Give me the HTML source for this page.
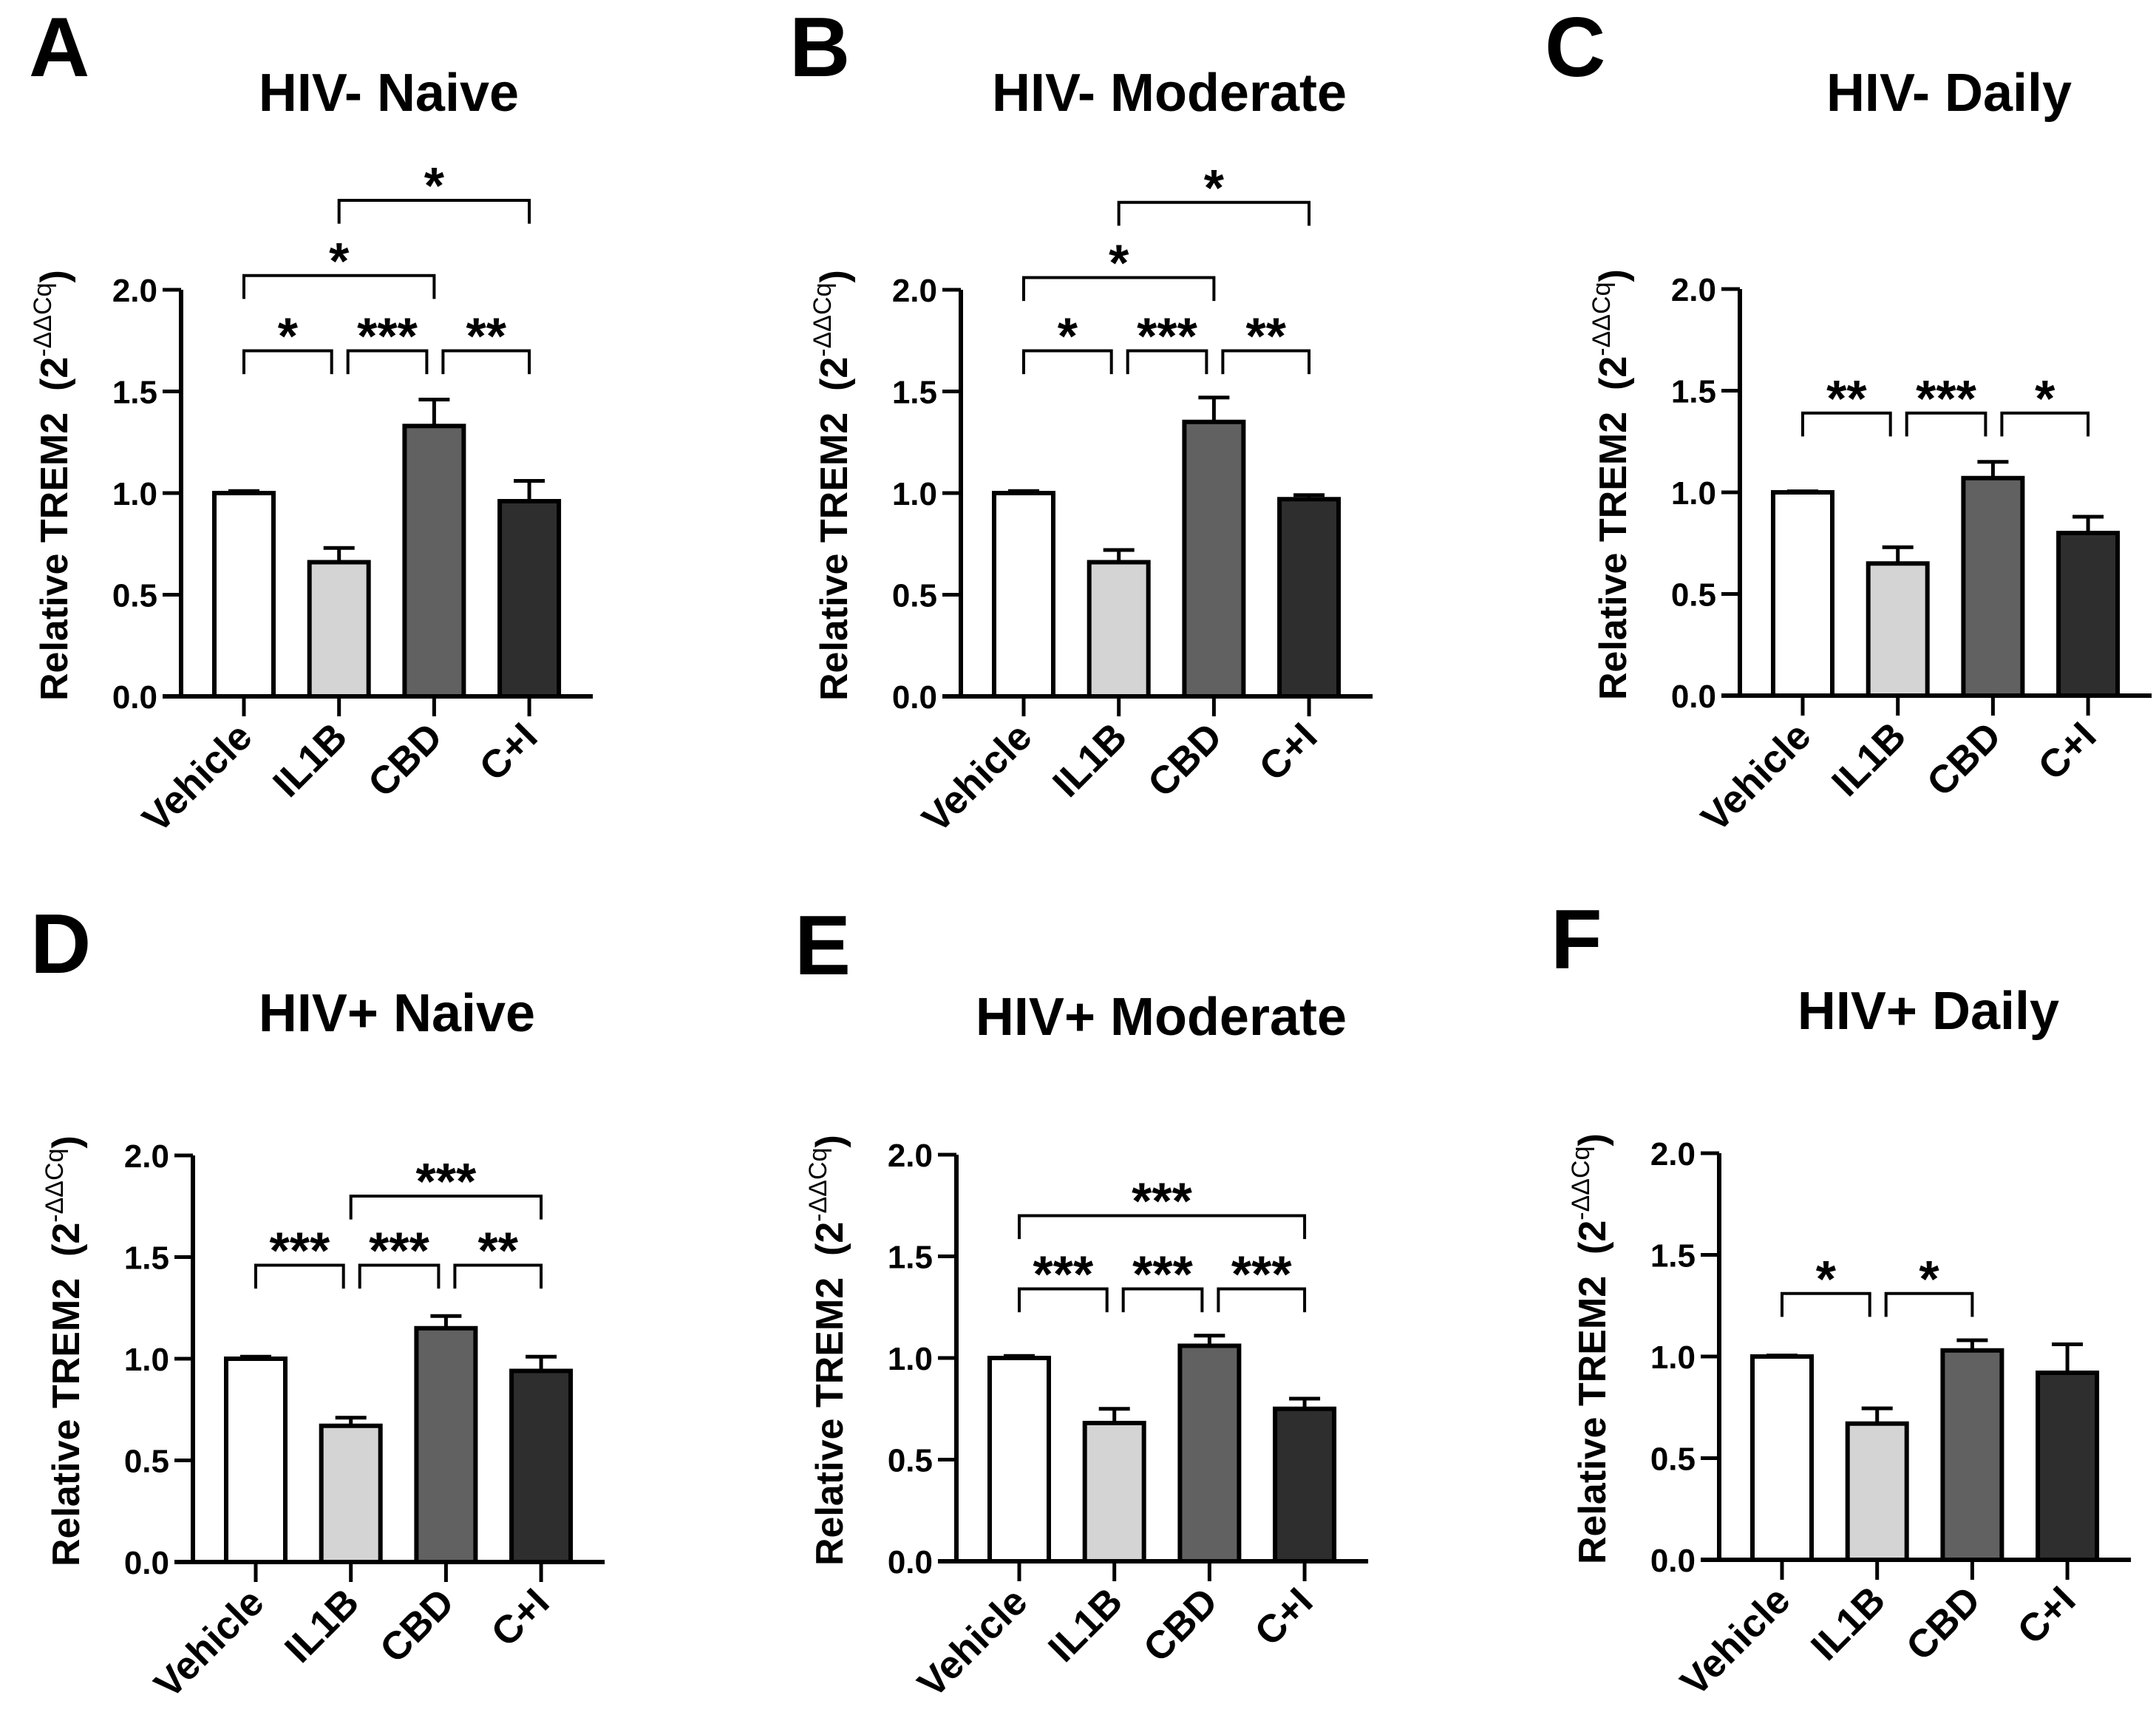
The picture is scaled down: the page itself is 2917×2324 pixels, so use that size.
<!DOCTYPE html>
<html><head><meta charset="utf-8"><style>
html,body{margin:0;padding:0;background:#fff}
svg{display:block}
text{font-family:"Liberation Sans",Arial,sans-serif;font-weight:bold;fill:#000}
</style></head>
<body>
<svg id="fig" width="2917" height="2324" viewBox="0 0 2917 2324" xmlns="http://www.w3.org/2000/svg"></svg>
<script>
const categories = ["Vehicle","IL1B","CBD","C+I"];
const yTicks = [0.0,0.5,1.0,1.5,2.0];
const yTickLabels = ["0.0","0.5","1.0","1.5","2.0"];
const valuesA = [1.00,0.66,1.33,0.96];
const errA    = [1.01,0.73,1.46,1.06];
const valuesB = [1.00,0.66,1.35,0.97];
const errB    = [1.01,0.72,1.47,0.99];
const valuesC = [1.00,0.65,1.07,0.80];
const errC    = [1.005,0.73,1.15,0.88];
const valuesD = [1.00,0.67,1.15,0.94];
const errD    = [1.01,0.71,1.21,1.01];
const valuesE = [1.00,0.68,1.06,0.75];
const errE    = [1.01,0.75,1.11,0.80];
const valuesF = [1.00,0.67,1.03,0.92];
const errF    = [1.005,0.745,1.08,1.06];
// brackets: [from, to, level, label]
const bracketsA = [[0,1,1.70,"*"],[1,2,1.70,"***"],[2,3,1.70,"**"],[0,2,2.07,"*"],[1,3,2.44,"*"]];
const bracketsB = [[0,1,1.70,"*"],[1,2,1.70,"***"],[2,3,1.70,"**"],[0,2,2.06,"*"],[1,3,2.43,"*"]];
const bracketsC = [[0,1,1.39,"**"],[1,2,1.39,"***"],[2,3,1.39,"*"]];
const bracketsD = [[0,1,1.46,"***"],[1,2,1.46,"***"],[2,3,1.46,"**"],[1,3,1.80,"***"]];
const bracketsE = [[0,1,1.34,"***"],[1,2,1.34,"***"],[2,3,1.34,"***"],[0,3,1.70,"***"]];
const bracketsF = [[0,1,1.31,"*"],[1,2,1.31,"*"]];

const fills = ["#ffffff","#d4d4d4","#616161","#2e2e2e"];
const NS = "http://www.w3.org/2000/svg";
const svg = document.getElementById("fig");
function mk(tag, attrs, parent){
  const e = document.createElementNS(NS, tag);
  for (const k in attrs) e.setAttribute(k, attrs[k]);
  (parent||svg).appendChild(e);
  return e;
}
const panels = [
  {id:"a",letter:"A",title:"HIV- Naive",ax:245,y0:942,lx:39,ly:103,tx:526,ty:150,v:valuesA,e:errA,b:bracketsA},
  {id:"b",letter:"B",title:"HIV- Moderate",ax:1300,y0:942,lx:1068,ly:103,tx:1582,ty:150,v:valuesB,e:errB,b:bracketsB},
  {id:"c",letter:"C",title:"HIV- Daily",ax:2354,y0:941,lx:2090,ly:103,tx:2637,ty:150,v:valuesC,e:errC,b:bracketsC},
  {id:"d",letter:"D",title:"HIV+ Naive",ax:261,y0:2113,lx:41,ly:1316,tx:537,ty:1395,v:valuesD,e:errD,b:bracketsD},
  {id:"e",letter:"E",title:"HIV+ Moderate",ax:1294,y0:2112,lx:1075,ly:1318,tx:1571,ty:1400,v:valuesE,e:errE,b:bracketsE},
  {id:"f",letter:"F",title:"HIV+ Daily",ax:2326,y0:2110,lx:2098,ly:1310,tx:2609,ty:1392,v:valuesF,e:errF,b:bracketsF}
];
const UNIT = 275, SPACING = 128.7, FIRST = 85, BW = 80;

panels.forEach(p => {
  const g = mk("g", {});
  
  
  const yS = v => p.y0 - v*UNIT;
  const xS = i => p.ax + FIRST + i*SPACING;
  const xEnd = xS(3) + 86;

  const L = mk("text", {x:p.lx, y:p.ly, "font-size":114}, g);
  L.textContent = p.letter;
  
  

  const T = mk("text", {x:p.tx, y:p.ty, "font-size":72, "text-anchor":"middle"}, g);
  T.textContent = p.title;
  
  

  p.v.forEach((val,i) => {
    const x = xS(i);
    const r = mk("rect", {x:x-BW/2, y:yS(val), width:BW, height:yS(0)-yS(val), fill:fills[i], stroke:"#000", "stroke-width":6}, g);
    
    
    const el = mk("path", {d:`M${x} ${yS(val)} V${yS(p.e[i])} M${x-21} ${yS(p.e[i])} H${x+21}`, stroke:"#000", "stroke-width":5, fill:"none"}, g);
    
    
  });

  const ya = mk("path", {d:`M${p.ax} ${yS(2)} V${p.y0}`, stroke:"#000", "stroke-width":6}, g);
  
  
  const xa = mk("path", {d:`M${p.ax-25} ${p.y0} H${xEnd}`, stroke:"#000", "stroke-width":6}, g);
  
  

  yTicks.forEach((t,k) => {
    const tk = mk("path", {d:`M${p.ax-25} ${yS(t)} H${p.ax}`, stroke:"#000", "stroke-width":5}, g);
    
    
    const tl = mk("text", {x:p.ax-32, y:yS(t)+16, "font-size":44, "text-anchor":"end"}, g);
    tl.textContent = yTickLabels[k];
    
    
  });

  categories.forEach((c,i) => {
    const x = xS(i);
    const tk = mk("path", {d:`M${x} ${p.y0} V${p.y0+27}`, stroke:"#000", "stroke-width":5}, g);
    
    
    const tl = mk("text", {x:x+14, y:p.y0+58, "font-size":53, "text-anchor":"end", transform:`rotate(-45 ${x+14} ${p.y0+58})`}, g);
    tl.textContent = c;
    
    
  });

  const yx = p.ax - 154, yy = p.y0 + 6;
  const yt = mk("text", {x:yx, y:yy, "font-size":52, transform:`rotate(-90 ${yx} ${yy})`}, g);
  
  
  const t1 = mk("tspan", {}, yt); t1.textContent = "Relative TREM2\u00a0\u00a0(2";
  const t2 = mk("tspan", {"font-size":34, "font-weight":"normal", dy:-22}, yt); t2.textContent = "-ΔΔCq";
  const t3 = mk("tspan", {dy:22}, yt); t3.textContent = ")";

  p.b.forEach(br => {
    const [a,b,lvl,lab] = br;
    const sameRowLeft = p.b.some(o => o !== br && o[2] === lvl && o[1] === a);
    const sameRowRight = p.b.some(o => o !== br && o[2] === lvl && o[0] === b);
    const x1 = xS(a) + (sameRowLeft ? 12 : 0);
    const x2 = xS(b) - (sameRowRight ? 10 : 0);
    const y = yS(lvl), yb = yS(lvl - 0.115);
    const pth = mk("path", {d:`M${x1} ${yb} V${y} H${x2} V${yb}`, stroke:"#000", "stroke-width":4, fill:"none"}, g);
    
    
    const st = mk("text", {x:(x1+x2)/2, y:y+4, "font-size":70, "text-anchor":"middle"}, g);
    st.textContent = lab;
    
    
  });
});
</script>
</body></html>
